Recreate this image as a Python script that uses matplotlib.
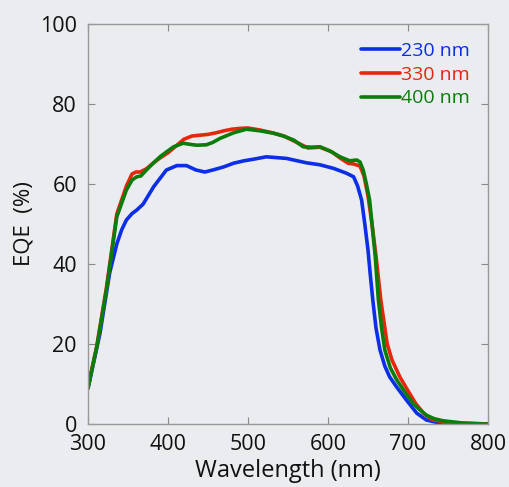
import matplotlib
matplotlib.use("Agg")
import matplotlib.pyplot as plt

wl_230 = [300, 315, 327, 336, 342, 348, 355, 361, 369, 382, 398, 411, 423, 435, 446, 456, 470, 482, 495, 507, 523, 548, 573, 590, 607, 623, 632,
          637, 642, 646, 650, 653, 656, 660, 665, 671, 677, 686, 698, 711, 723, 738, 760, 800]
eqe_230 = [8.9, 22.7, 37.7, 45, 48.5, 51, 52.6, 53.5, 55, 59.3, 63.5, 64.6, 64.6, 63.5, 63.0, 63.5, 64.3, 65.2, 65.8, 66.2, 66.8, 66.4, 65.3, 64.8, 63.9, 62.7, 61.8,
           59.5, 56, 50, 43.5, 37, 31, 24, 18.5, 14.5, 11.8, 9.2, 6, 2.7, 1.0, 0.3, 0.1, 0.0]

wl_330 = [300, 311, 323, 336, 348, 355, 360, 365, 373, 380, 390, 400, 410, 420, 430, 440, 450, 460, 470, 480, 490, 500, 515, 530, 545, 560, 575, 590,
          605, 615, 625, 632, 640, 645, 650, 655, 660, 666, 674, 680, 690, 700, 710, 720, 730, 745, 770, 800]
eqe_330 = [9.3, 19.5, 34, 52.5, 59.5, 62.5, 63, 63, 63.8, 65, 66.5, 67.8, 69.5, 71.2, 72.0, 72.2, 72.4, 72.8, 73.3, 73.7, 73.9, 74, 73.5, 72.8, 72, 70.5, 69, 69.2,
           68, 66.5, 65.2, 65, 64.5, 62, 57, 50, 42, 31, 20, 16, 11.7, 8.3, 5, 2.6, 1.1, 0.5, 0.2, 0.0]

wl_400 = [300, 311, 323, 336, 348, 355, 361, 366, 373, 382, 390, 400, 407, 419, 428, 436, 448, 456, 465, 482, 498, 515, 532, 544, 557, 569, 580, 590, 602, 615,
          627, 636, 640, 644, 648, 652, 655, 659, 663, 667, 671, 678, 686, 696, 706, 715, 723, 733, 744, 770, 800]
eqe_400 = [9.0, 19.3, 33.5, 51.8, 58.5, 61, 61.8, 62, 63.5, 65.3, 66.8, 68.3, 69.3, 70.2, 69.9, 69.7, 69.8, 70.4, 71.4, 72.8, 73.7, 73.3, 72.7, 72, 71, 69.3, 69.2, 69.3, 68.3, 66.8,
           65.8, 66, 65.5, 63.5, 60, 56, 50, 42, 31, 24, 18.5, 14, 11, 8, 5.2, 3.5, 2.2, 1.3, 0.8, 0.2, 0.0]

labels = ["230 nm", "330 nm", "400 nm"]
colors = ["#0b2ee6", "#e8260c", "#0a7d0a"]
xticks = [300, 400, 500, 600, 700, 800]
yticks = [0, 20, 40, 60, 80, 100]

plt.rcParams['font.family'] = ['Open Sans', 'DejaVu Sans']
bg = "#eaecef"
fig = plt.figure(figsize=(5.10, 4.87), dpi=100, facecolor=bg)
ax = fig.add_axes([88/510, 63/487, 400/510, 400/487], facecolor=bg)

for wl, eqe, c, lab in [(wl_230, eqe_230, colors[0], labels[0]),
                        (wl_330, eqe_330, colors[1], labels[1]),
                        (wl_400, eqe_400, colors[2], labels[2])]:
    ax.plot(wl, eqe, color=c, lw=2.6, label=lab, solid_joinstyle='round', solid_capstyle='round')

ax.set_xlim(300, 800)
ax.set_ylim(0, 100)
ax.set_xticks(xticks)
ax.set_yticks(yticks)
ax.tick_params(direction='in', length=5, width=0.8, color='#888888', top=True, right=True,
               labelsize=15.5, labelcolor='#111111')
ax.tick_params(axis='y', pad=8)
ax.tick_params(axis='x', pad=7)
for s in ax.spines.values():
    s.set_color('#999999')
    s.set_linewidth(1.0)

ax.set_xlabel("Wavelength (nm)", fontsize=17, labelpad=3, color='#111111')
ax.set_ylabel("EQE  (%)", fontsize=16, labelpad=4, color='#111111')

leg = ax.legend(loc='upper right', bbox_to_anchor=(0.985, 0.985), frameon=False, fontsize=14,
                handlelength=2.0, handletextpad=0.1, labelspacing=0.3, borderaxespad=0.2)
for t, c in zip(leg.get_texts(), colors):
    t.set_color(c)

fig.savefig("out.png", dpi=100, facecolor=bg)
